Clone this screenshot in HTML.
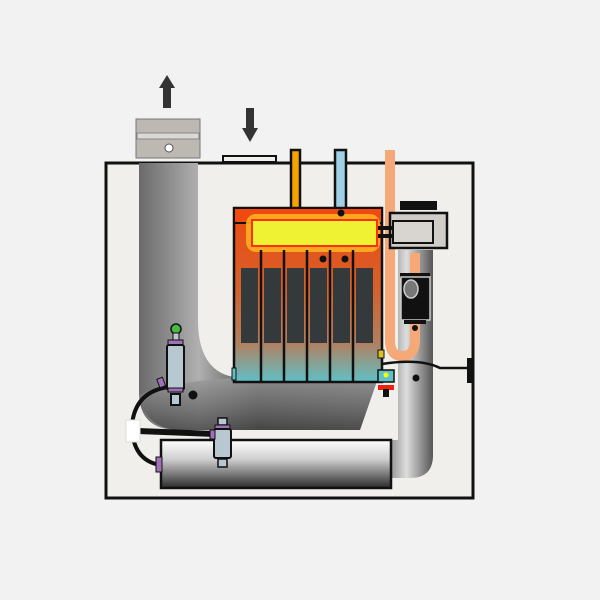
<!DOCTYPE html>
<html><head><style>html,body{margin:0;padding:0;background:#f2f2f2}svg{display:block}</style></head>
<body>
<svg width="600" height="600" viewBox="0 0 600 600" xmlns="http://www.w3.org/2000/svg">
<defs>
<linearGradient id="duct" x1="0" x2="1" y1="0" y2="0">
<stop offset="0" stop-color="#6a6a6a"/><stop offset="0.25" stop-color="#b0b0b0"/><stop offset="0.5" stop-color="#4a4a4a"/><stop offset="1" stop-color="#707070"/></linearGradient>
<linearGradient id="ductH" x1="0" x2="0" y1="0" y2="1">
<stop offset="0" stop-color="#9a9a9a"/><stop offset="0.6" stop-color="#6a6a6a"/><stop offset="1" stop-color="#444"/></linearGradient>
<linearGradient id="rduct" x1="0" x2="1">
<stop offset="0" stop-color="#666"/><stop offset="0.5" stop-color="#ddd"/><stop offset="1" stop-color="#555"/></linearGradient>
<linearGradient id="cyl" x1="0" x2="0" y1="0" y2="1">
<stop offset="0" stop-color="#ffffff"/><stop offset="0.4" stop-color="#cfcfcf"/><stop offset="1" stop-color="#2a2a2a"/></linearGradient>
<linearGradient id="hx" x1="0" x2="0" y1="0" y2="1">
<stop offset="0" stop-color="#f04a10"/><stop offset="0.45" stop-color="#d6602a"/><stop offset="0.78" stop-color="#b08060"/><stop offset="1" stop-color="#5fc0c8"/></linearGradient>
<linearGradient id="cu" x1="0" x2="1"><stop offset="0" stop-color="#f5a070"/><stop offset="0.5" stop-color="#ffd0b0"/><stop offset="1" stop-color="#f5a070"/></linearGradient>
</defs>
<rect x="106" y="163" width="367" height="335" fill="#f0efec" stroke="#111" stroke-width="3"/>
<!-- arrows -->
<path d="M163,108 V88 H159 L167,75 L175,88 H171 V108 Z" fill="#333"/>
<path d="M246,108 V128 H242 L250,142 L258,128 H254 V108 Z" fill="#333"/>
<rect x="223" y="156" width="53" height="6" fill="#f0efec" stroke="#111" stroke-width="2"/>
<!-- right duct -->
<path d="M398,250 H433 V455 Q433,478 410,478 H380 V440 H398 Z" fill="url(#rduct)"/>
<!-- left duct -->
<path d="M139,163 L198,163 L198,320 Q198,378 245,378 L378,378 L360,430 L178,430 Q139,430 139,392 Z" fill="url(#duct)"/>
<path d="M150,390 Q200,378 245,378 L378,378 L360,430 L178,430 Q145,428 140,395 Z" fill="url(#ductH)" opacity="0.8"/>
<!-- cap -->
<rect x="136" y="119" width="64" height="39" fill="#bdb9b2" stroke="#777" stroke-width="1"/>
<rect x="137" y="133" width="62" height="6" fill="#dcd9d4" stroke="#888" stroke-width="1"/>
<circle cx="169" cy="148" r="4" fill="#fff" stroke="#555"/>
<!-- pipes -->
<rect x="291" y="150" width="9" height="60" fill="#f6a300" stroke="#111" stroke-width="2.5"/>
<rect x="335" y="150" width="11" height="60" fill="#9fd0e6" stroke="#111" stroke-width="2.5"/>
<path d="M390,150 V340 Q390,356 402,356 Q415,356 415,340 V253" fill="none" stroke="#f5a878" stroke-width="10"/>
<!-- heat exchanger -->
<rect x="234" y="208" width="148" height="174" fill="url(#hx)" stroke="#111" stroke-width="2.5"/>
<rect x="234" y="208" width="148" height="15" fill="#f04a10" stroke="#111" stroke-width="2"/>
<rect x="246" y="214" width="134" height="38" rx="10" fill="#ffb020" opacity="0.9"/>
<rect x="252" y="220" width="125" height="26" fill="#eef232" stroke="#ff3010" stroke-width="2"/>
<g fill="#343a3c">
<rect x="241" y="268" width="17" height="75"/><rect x="264" y="268" width="17" height="75"/><rect x="287" y="268" width="17" height="75"/><rect x="310" y="268" width="17" height="75"/><rect x="333" y="268" width="17" height="75"/><rect x="356" y="268" width="17" height="75"/></g>
<g stroke="#111" stroke-width="2.5"><line x1="261" y1="250" x2="261" y2="382"/><line x1="284" y1="250" x2="284" y2="382"/><line x1="307" y1="250" x2="307" y2="382"/><line x1="330" y1="250" x2="330" y2="382"/><line x1="353" y1="250" x2="353" y2="382"/></g>
<circle cx="341" cy="213" r="3.5" fill="#111"/><circle cx="323" cy="259" r="3.5" fill="#111"/><circle cx="345" cy="259" r="3.5" fill="#111"/>
<rect x="232" y="368" width="4" height="12" fill="#5fc0c8" stroke="#111"/>
<!-- right device -->
<rect x="400" y="201" width="37" height="9" fill="#111"/>
<rect x="390" y="213" width="57" height="35" fill="#d0cdc8" stroke="#111" stroke-width="2.5"/>
<rect x="393" y="221" width="40" height="22" fill="#d8d5d0" stroke="#111" stroke-width="2"/>
<rect x="378" y="226" width="16" height="4" fill="#111"/><rect x="378" y="234" width="16" height="4" fill="#111"/>
<rect x="400" y="273" width="30" height="5" fill="#111"/>
<rect x="401" y="277" width="29" height="43" fill="#111" stroke="#ccc" stroke-width="1.5"/>
<ellipse cx="411" cy="289" rx="7" ry="9" fill="#777" stroke="#ccc" stroke-width="1.5"/>
<rect x="404" y="320" width="22" height="4" fill="#111"/>
<circle cx="415" cy="328" r="3" fill="#111"/><circle cx="416" cy="378" r="3.5" fill="#111"/>
<!-- right small fittings -->
<rect x="378" y="350" width="6" height="8" fill="#e0c020" stroke="#111"/>
<rect x="378" y="370" width="16" height="12" fill="#5fc0c8" stroke="#111" stroke-width="1.5"/>
<circle cx="386" cy="375" r="2.5" fill="#ff0"/>
<rect x="378" y="385" width="16" height="5" fill="#f02010"/>
<rect x="383" y="389" width="6" height="8" fill="#111"/>
<path d="M382,364 Q420,358 440,368 H470" fill="none" stroke="#111" stroke-width="2.5"/>
<rect x="467" y="358" width="6" height="25" fill="#111"/>
<!-- cylinder -->
<rect x="161" y="440" width="230" height="48" fill="url(#cyl)" stroke="#111" stroke-width="2.5"/>
<!-- cables -->
<path d="M168,387 Q135,392 132,425 Q132,460 160,465" fill="none" stroke="#111" stroke-width="4"/>
<path d="M138,431 L215,434" stroke="#111" stroke-width="6"/>
<rect x="126" y="420" width="14" height="22" fill="#fff" stroke="#ddd"/>
<rect x="156" y="457" width="6" height="15" fill="#a070b8" stroke="#111"/>
<!-- left sensor -->
<circle cx="176" cy="329" r="5" fill="#4aba40" stroke="#111" stroke-width="1.5"/>
<rect x="173" y="333" width="6" height="7" fill="#b8c8d0" stroke="#111"/>
<rect x="168" y="340" width="15" height="5" fill="#a070b8" stroke="#111"/>
<rect x="167" y="345" width="17" height="45" rx="2" fill="#b8c8d0" stroke="#111" stroke-width="2"/>
<rect x="168" y="388" width="15" height="4" fill="#a070b8" stroke="#111"/>
<rect x="171" y="394" width="9" height="11" fill="#b8c8d0" stroke="#111" stroke-width="2"/>
<rect x="158" y="378" width="6" height="9" fill="#a070b8" stroke="#111" transform="rotate(-20 161 382)"/>
<circle cx="193" cy="395" r="4.5" fill="#111"/>
<!-- middle sensor -->
<rect x="218" y="418" width="9" height="7" fill="#b8c8d0" stroke="#111" stroke-width="1.5"/>
<rect x="215" y="425" width="15" height="4" fill="#a070b8" stroke="#111"/>
<rect x="214" y="429" width="17" height="29" rx="2" fill="#b8c8d0" stroke="#111" stroke-width="2"/>
<rect x="210" y="430" width="5" height="9" fill="#a070b8" stroke="#111"/>
<rect x="218" y="459" width="9" height="8" fill="#b8c8d0" stroke="#111" stroke-width="1.5"/>
</svg>
</body></html>
